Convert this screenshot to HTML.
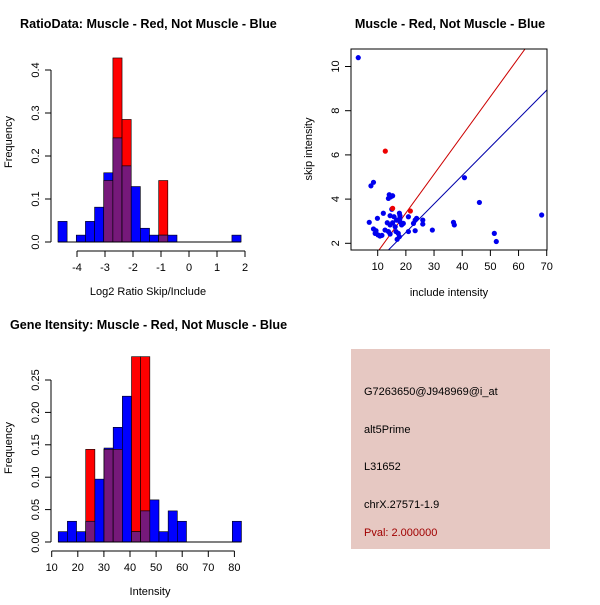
<!DOCTYPE html>
<html><head><meta charset="utf-8"><style>
body{margin:0;background:#fff}
svg text{font-family:"Liberation Sans",sans-serif}
</style></head><body>
<svg id="c" width="600" height="600" xmlns="http://www.w3.org/2000/svg">
<rect width="600" height="600" fill="#fff"/>
<text x="20" y="28" font-size="12.6" font-weight="bold">RatioData: Muscle - Red, Not Muscle - Blue</text>
<text x="450" y="28" font-size="12.6" font-weight="bold" text-anchor="middle">Muscle - Red, Not Muscle - Blue</text>
<text x="10" y="329" font-size="12.6" font-weight="bold">Gene Itensity: Muscle - Red, Not Muscle - Blue</text>
<g id="h1"></g>
<g id="sc"></g>
<g id="h2"></g>
<g>
<rect x="351" y="349" width="199" height="200" fill="#e6c8c2"/>
<text x="364" y="395" font-size="11">G7263650@J948969@i_at</text>
<text x="364" y="433" font-size="11">alt5Prime</text>
<text x="364" y="470" font-size="11">L31652</text>
<text x="364" y="508" font-size="11">chrX.27571-1.9</text>
<text x="364" y="536" font-size="11" fill="#a00000">Pval: 2.000000</text>
</g>
</svg>
<script>
// Ratio histogram data
const h1Blue=[0.048,0,0.016,0.048,0.081,0.161,0.242,0.177,0.129,0.032,0.016,0.016,0.016,0,0,0,0,0,0,0.016];
const h1Red=[0,0,0,0,0,0.143,0.428,0.285,0,0,0,0.143,0,0,0,0,0,0,0,0];
const h1XTicks=[-4,-3,-2,-1,0,1,2];
const h1YTicks=[0.0,0.1,0.2,0.3,0.4];
// Intensity histogram data
const h2Blue=[0.016,0.032,0.016,0.032,0.097,0.145,0.177,0.225,0.016,0.048,0.065,0.016,0.048,0.032,0,0,0,0,0,0.032];
const h2Red=[0,0,0,0.143,0,0.143,0.143,0,0.286,0.286,0,0,0,0,0,0,0,0,0,0];
const h2XTicks=[10,20,30,40,50,60,70,80];
const h2YTicks=[0.00,0.05,0.10,0.15,0.20,0.25];
// Scatter data
const scBlueX=[3.1,8.5,7.6,7.0,9.9,12.0,8.5,9.4,9.1,10.1,10.8,11.5,13.8,14.1,15.3,14.6,15,14.4,15.8,13.4,15.3,12.6,13.8,14.4,16.2,16.7,17.9,17.7,17.9,17.9,18.5,19.1,17.3,16.9,17.7,16.5,14.4,20.9,20.9,23.3,23.3,22.7,23.8,26,26,29.4,36.9,37.2,40.8,46.1,51.4,52.1,68.2];
const scBlueY=[10.4,4.76,4.6,2.95,3.13,3.36,2.65,2.57,2.45,2.38,2.33,2.36,4.03,4.2,4.15,4.1,3.54,3.25,3.2,2.93,2.93,2.6,2.53,2.83,2.75,3.05,3.13,3.36,3.25,2.98,2.83,2.9,2.45,2.18,2.3,2.53,2.42,3.2,2.53,3.05,2.57,2.9,3.13,3.05,2.87,2.6,2.95,2.83,4.97,3.85,2.45,2.08,3.28];
const scRedX=[12.7,21.6,15.3];
const scRedY=[6.17,3.46,3.58];
const scLineSlopes=[0.1755,0.1287];
const scLineIntercepts=[-0.14,-0.08];
const scXTicks=[10,20,30,40,50,60,70];
const scYTicks=[2,4,6,8,10];

const NS="http://www.w3.org/2000/svg";
function mk(p,tag,a){const e=document.createElementNS(NS,tag);for(const k in a)e.setAttribute(k,a[k]);p.appendChild(e);return e;}

function hist(g,blue,red,start,w,xs,ys,xt,yt,fmt,xlab,ylabX,xlabY,ylab,axisY,yAxisX){
  const gg=document.getElementById(g);
  const purple='#76197a';
  for(let i=0;i<blue.length;i++){
    const x0=xs(start+i*w),x1=xs(start+(i+1)*w);
    const b=blue[i],r=red[i];
    if(r>0){
      const e=mk(gg,'rect',{x:x0,y:ys(r),width:x1-x0,height:ys(0)-ys(r),fill:'#ff0000',stroke:'#000','stroke-width':0.6});
      
      
    }
    if(b>0){
      const e=mk(gg,'rect',{x:x0,y:ys(b),width:x1-x0,height:ys(0)-ys(b),fill:'#0000ff',stroke:'#000','stroke-width':0.6});
      
      
    }
    const m=Math.min(b,r);
    if(m>0){
      const e=mk(gg,'rect',{x:x0,y:ys(m),width:x1-x0,height:ys(0)-ys(m),fill:purple,stroke:'#000','stroke-width':0.6});
      
      
    }
  }
  const bl=mk(gg,'line',{x1:xs(start),x2:xs(start+blue.length*w),y1:ys(0),y2:ys(0),stroke:'#000'});
  
  
  const xa=mk(gg,'line',{x1:xs(xt[0]),x2:xs(xt[xt.length-1]),y1:axisY,y2:axisY,stroke:'#000'});
  
  
  xt.forEach(v=>{
    mk(gg,'line',{x1:xs(v),x2:xs(v),y1:axisY,y2:axisY+6,stroke:'#000'});
    const t=mk(gg,'text',{x:xs(v),y:axisY+20,'font-size':11,'text-anchor':'middle'});t.textContent=v;
    
    
  });
  const ya=mk(gg,'line',{x1:yAxisX,x2:yAxisX,y1:ys(yt[0]),y2:ys(yt[yt.length-1]),stroke:'#000'});
  
  
  yt.forEach(v=>{
    mk(gg,'line',{x1:yAxisX-6,x2:yAxisX,y1:ys(v),y2:ys(v),stroke:'#000'});
    const t=mk(gg,'text',{x:0,y:0,'font-size':11,'text-anchor':'middle',transform:`translate(${yAxisX-12},${ys(v)}) rotate(-90)`});t.textContent=fmt(v);
    
    
  });
  const xl=mk(gg,'text',{x:xlab[0],y:xlab[1],'font-size':11,'text-anchor':'middle'});xl.textContent=xlab[2];
  
  
  const yl=mk(gg,'text',{x:0,y:0,'font-size':11,'text-anchor':'middle',transform:`translate(${ylabX},${xlabY}) rotate(-90)`});yl.textContent=ylab;
  
  
}

const xs1=v=>77+(v+4)*28, ys1=v=>242-v*430;
hist('h1',h1Blue,h1Red,-4.68,0.327,xs1,ys1,h1XTicks,h1YTicks,v=>v.toFixed(1),[148,295,'Log2 Ratio Skip/Include'],12,142,'Frequency',251,51);
const xs2=v=>51.7+(v-10)*2.61, ys2=v=>542-v*648;
hist('h2',h2Blue,h2Red,12.5,3.51,xs2,ys2,h2XTicks,h2YTicks,v=>v.toFixed(2),[150,595,'Intensity'],12,448,'Frequency',551,51);

(function(){
  const g=document.getElementById('sc');
  const xs=v=>377.7+(v-10)*2.817, ys=v=>243.3-(v-2)*22.1;
  const L=351,R=547,T=49,B=250;
  const clip=mk(g,'clipPath',{id:'scclip'});mk(clip,'rect',{x:L,y:T,width:R-L,height:B-T});
  const colors=['#cc0000','#0000aa'];
  scLineSlopes.forEach((s,i)=>{
    const x0=0,x1=80;
    const l=mk(g,'line',{x1:xs(x0),y1:ys(scLineIntercepts[i]+s*x0),x2:xs(x1),y2:ys(scLineIntercepts[i]+s*x1),stroke:colors[i],'stroke-width':1,'clip-path':'url(#scclip)'});
    
    
  });
  scBlueX.forEach((x,i)=>{
    const c=mk(g,'circle',{cx:xs(x),cy:ys(scBlueY[i]),r:2.6,fill:'#0000ee'});
    
    
  });
  scRedX.forEach((x,i)=>{
    const c=mk(g,'circle',{cx:xs(x),cy:ys(scRedY[i]),r:2.6,fill:'#ee0000'});
    
    
  });
  const box=mk(g,'rect',{x:L,y:T,width:R-L,height:B-T,fill:'none',stroke:'#000'});
  
  
  scXTicks.forEach(v=>{
    mk(g,'line',{x1:xs(v),x2:xs(v),y1:B,y2:B+6,stroke:'#000'});
    const t=mk(g,'text',{x:xs(v),y:B+20,'font-size':11,'text-anchor':'middle'});t.textContent=v;
    
    
  });
  scYTicks.forEach(v=>{
    mk(g,'line',{x1:L-6,x2:L,y1:ys(v),y2:ys(v),stroke:'#000'});
    const t=mk(g,'text',{x:0,y:0,'font-size':11,'text-anchor':'middle',transform:`translate(${L-12},${ys(v)}) rotate(-90)`});t.textContent=v;
    
    
  });
  const xl=mk(g,'text',{x:449,y:296,'font-size':11,'text-anchor':'middle'});xl.textContent='include intensity';
  
  
  const yl=mk(g,'text',{x:0,y:0,'font-size':11,'text-anchor':'middle',transform:'translate(312,149) rotate(-90)'});yl.textContent='skip intensity';
  
  
})();
</script>
</body></html>
